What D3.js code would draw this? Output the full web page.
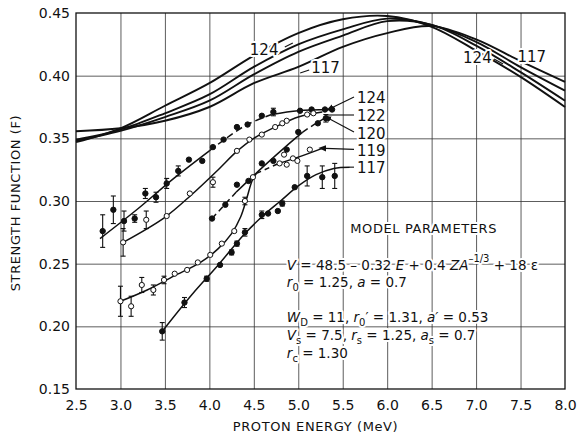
<!DOCTYPE html>
<html>
<head>
<meta charset="utf-8">
<script src="https://cdn.jsdelivr.net/npm/d3@7"></script>
<style>
  body { margin: 0; background: #fff; }
  svg text { font-family: "DejaVu Sans", "Liberation Sans", sans-serif; fill: #111; }
  .grid line { stroke: #333; stroke-width: 0.8; }
  .grid path { display: none; }
  .halo { stroke: #fff; stroke-width: 4; paint-order: stroke; stroke-linejoin: round; }
</style>
</head>
<body>
<svg id="chart" width="583" height="436"></svg>
<script>
(() => {
    // tick values
    const xTicks = [2.5, 3.0, 3.5, 4.0, 4.5, 5.0, 5.5, 6.0, 6.5, 7.0, 7.5, 8.0];
    const yTicks = [0.15, 0.20, 0.25, 0.30, 0.35, 0.40, 0.45];

    // theoretical strength-function curves (model), sampled on eGrid
    const eGrid = [2.5, 3.0, 3.5, 4.0, 4.5, 5.0, 5.5, 6.0, 6.5, 7.0, 7.5, 8.0];
    const theory124 = [0.347, 0.358, 0.376, 0.394, 0.416, 0.434, 0.445, 0.4476, 0.439, 0.420, 0.399, 0.375];
    const theory122 = [0.349, 0.357, 0.370, 0.385, 0.407, 0.425, 0.437, 0.4455, 0.4405, 0.427, 0.4068, 0.388];
    const theory120 = [0.348, 0.356, 0.367, 0.380, 0.401, 0.419, 0.432, 0.4435, 0.4405, 0.424, 0.4028, 0.380];
    const theory117 = [0.3556, 0.358, 0.364, 0.375, 0.394, 0.407, 0.423, 0.434, 0.4395, 0.429, 0.4116, 0.395];

    // measured points: energy, strength, error (0 = no bar)
    const e124 = [2.80, 2.92, 3.04, 3.16, 3.28, 3.40, 3.52, 3.65, 3.77, 3.92, 4.04, 4.16, 4.31, 4.43, 4.59, 4.72, 5.02, 5.15, 5.30, 5.38];
    const f124 = [0.276, 0.293, 0.284, 0.286, 0.306, 0.303, 0.314, 0.324, 0.333, 0.332, 0.343, 0.349, 0.359, 0.361, 0.368, 0.371, 0.372, 0.373, 0.373, 0.373];
    const d124 = [0.013, 0.011, 0.008, 0.003, 0.004, 0.004, 0.004, 0.004, 0, 0, 0, 0, 0, 0, 0, 0.003, 0, 0, 0, 0];

    const e122 = [3.03, 3.29, 3.52, 3.78, 4.04, 4.31, 4.45, 4.59, 4.74, 4.82, 4.87, 5.10, 5.17];
    const f122 = [0.267, 0.285, 0.288, 0.306, 0.315, 0.340, 0.349, 0.353, 0.359, 0.362, 0.364, 0.369, 0.370];
    const d122 = [0.011, 0.007, 0, 0, 0.004, 0, 0, 0, 0, 0, 0, 0, 0];

    const e120 = [4.03, 4.18, 4.31, 4.44, 4.59, 4.72, 4.87, 5.00, 5.22, 5.31];
    const f120 = [0.286, 0.297, 0.313, 0.316, 0.330, 0.332, 0.341, 0.355, 0.362, 0.366];
    const d120 = [0, 0, 0, 0, 0, 0, 0, 0, 0, 0.003];

    const e119 = [3.00, 3.12, 3.24, 3.37, 3.49, 3.61, 3.75, 3.87, 4.01, 4.14, 4.28, 4.40, 4.49, 4.79, 4.84, 4.87, 4.94, 4.99, 5.13];
    const f119 = [0.220, 0.216, 0.233, 0.229, 0.237, 0.242, 0.245, 0.251, 0.257, 0.266, 0.276, 0.300, 0.319, 0.330, 0.337, 0.329, 0.334, 0.332, 0.341];
    const d119 = [0.012, 0.008, 0.006, 0.004, 0.003, 0, 0, 0, 0, 0, 0, 0.003, 0, 0, 0, 0, 0, 0, 0];

    const e117 = [3.47, 3.72, 3.97, 4.12, 4.25, 4.31, 4.40, 4.59, 4.66, 4.77, 4.82, 4.96, 5.10, 5.27, 5.41];
    const f117 = [0.196, 0.219, 0.238, 0.249, 0.259, 0.266, 0.275, 0.289, 0.290, 0.292, 0.298, 0.311, 0.320, 0.319, 0.320];
    const d117 = [0.007, 0.004, 0.002, 0, 0.002, 0.002, 0.003, 0.003, 0, 0, 0.002, 0, 0.008, 0.009, 0.010];

    // hand-drawn trend lines through the data
    const lineE124 = [2.77, 3.2, 3.6, 4.0, 4.4, 4.7, 5.0, 5.35];
    const lineF124 = [0.270, 0.294, 0.318, 0.340, 0.360, 0.369, 0.372, 0.373];
    const lineE122 = [3.03, 3.5, 3.8, 4.1, 4.3, 4.5, 4.8, 5.0, 5.27];
    const lineF122 = [0.267, 0.287, 0.305, 0.325, 0.339, 0.350, 0.361, 0.367, 0.371];
    const lineE120 = [4.03, 4.3, 4.6, 4.9, 5.05, 5.2, 5.32];
    const lineF120 = [0.286, 0.307, 0.327, 0.346, 0.355, 0.362, 0.367];
    const lineE119 = [3.0, 3.3, 3.6, 3.9, 4.1, 4.25, 4.35, 4.42, 4.48, 4.53, 4.78, 5.0, 5.27];
    const lineF119 = [0.220, 0.229, 0.240, 0.251, 0.262, 0.274, 0.287, 0.302, 0.316, 0.322, 0.330, 0.335, 0.342];
    const lineE117 = [3.47, 3.8, 4.1, 4.4, 4.6, 4.8, 5.0, 5.2, 5.4, 5.58];
    const lineF117 = [0.196, 0.225, 0.249, 0.274, 0.288, 0.300, 0.312, 0.321, 0.326, 0.327];

    const svg = d3.select("#chart"),
        margin = { top: 13, right: 18, bottom: 47, left: 76 },
        width = +svg.attr("width") - margin.left - margin.right,
        height = +svg.attr("height") - margin.top - margin.bottom;

    const g = svg.append("g").attr("transform", `translate(${margin.left},${margin.top})`);

    const x = d3.scaleLinear().domain([2.5, 8.0]).range([0, width]);
    const y = d3.scaleLinear().domain([0.15, 0.45]).range([height, 0]);

    // grid
    g.append("g").attr("class", "grid")
        .attr("transform", `translate(0,${height})`)
        .call(d3.axisBottom(x).tickValues(xTicks.slice(1, -1)).tickSize(-height).tickFormat(""));
    g.append("g").attr("class", "grid")
        .call(d3.axisLeft(y).tickValues(yTicks.slice(1, -1)).tickSize(-width).tickFormat(""));

    g.append("rect").attr("width", width).attr("height", height)
        .attr("fill", "none").attr("stroke", "#111").attr("stroke-width", 1.3);

    // axes labels
    const xAxis = g.append("g").attr("transform", `translate(0,${height})`)
        .call(d3.axisBottom(x).tickValues(xTicks).tickSize(0).tickPadding(11).tickFormat(d3.format(".1f")));
    const yAxis = g.append("g")
        .call(d3.axisLeft(y).tickValues(yTicks).tickSize(0).tickPadding(6).tickFormat(d3.format(".2f")));
    [xAxis, yAxis].forEach(a => {
        a.select(".domain").remove();
        a.selectAll("text").style("font-size", "14px").attr("fill", "#111");
    });

    svg.append("text").attr("x", margin.left + x(5.25) - 5).attr("y", 431)
        .attr("text-anchor", "middle").style("font-size", "13px").style("letter-spacing", "0.6px")
        .text("PROTON ENERGY (MeV)");
    svg.append("text").attr("transform", "translate(20,203) rotate(-90)")
        .attr("text-anchor", "middle").style("font-size", "13px").style("letter-spacing", "0.6px")
        .text("STRENGTH FUNCTION (F)");

    const curve = d3.line().x(d => x(d[0])).y(d => y(d[1])).curve(d3.curveCatmullRom.alpha(0.5));

    // theory curves
    [theory124, theory122, theory120, theory117].forEach(vals => {
        g.append("path").datum(eGrid.map((e, i) => [e, vals[i]]))
            .attr("d", curve).attr("fill", "none").attr("stroke", "#111").attr("stroke-width", 1.9);
    });

    // text with white halo so grid breaks around it
    function label(px, py, txt, size, anchor) {
        return g.append("text").attr("class", "halo").attr("x", px).attr("y", py)
            .attr("text-anchor", anchor || "start").style("font-size", (size || 15) + "px").text(txt);
    }
    function leader(x1, y1, x2, y2, arrow) {
        g.append("line").attr("x1", x1).attr("y1", y1).attr("x2", x2).attr("y2", y2)
            .attr("stroke", "#111").attr("stroke-width", 1.1)
            .attr("marker-start", arrow ? "url(#arrow)" : null);
    }
    svg.append("defs").append("marker").attr("id", "arrow")
        .attr("viewBox", "0 0 10 10").attr("refX", 1).attr("refY", 5)
        .attr("markerWidth", 7).attr("markerHeight", 7).attr("orient", "auto-start-reverse")
        .append("path").attr("d", "M0,1 L10,5 L0,9 z").attr("fill", "#111");

    // theory labels
    label(x(4.5) - 4, 42, "124");
    leader(x(4.5) + 31, 34, x(4.5) + 39, 30);
    label(x(5.1) + 4, 60, "117");
    leader(x(5.1) + 2, 57, x(5.1) - 7, 60);
    label(x(7.0) - 13, 50, "124");
    leader(x(7.0) + 18, 46, x(7.0) + 27, 51);
    label(x(7.5) - 3, 49, "117");

    // data trend lines
    const seg = (E, F, lo, hi) => E.map((e, i) => [e, F[i]]).filter(d => d[0] >= lo && d[0] <= hi);
    const drawLine = (pts, dash) => g.append("path").datum(pts).attr("d", curve)
        .attr("fill", "none").attr("stroke", "#111").attr("stroke-width", 1.5)
        .attr("stroke-dasharray", dash || null);

    drawLine(seg(lineE124, lineF124, 0, 4.0));
    drawLine(seg(lineE124, lineF124, 4.0, 4.7), "7,4");
    drawLine(seg(lineE124, lineF124, 4.7, 9));
    drawLine(seg(lineE122, lineF122, 0, 9));
    drawLine(seg(lineE120, lineF120, 0, 4.3), "6,4");
    drawLine(seg(lineE120, lineF120, 4.3, 5.05));
    drawLine(seg(lineE120, lineF120, 5.05, 9), "6,4");
    drawLine(seg(lineE119, lineF119, 0, 4.53));
    drawLine(seg(lineE119, lineF119, 4.53, 4.78), "5,4");
    drawLine(seg(lineE119, lineF119, 4.78, 9));
    drawLine(seg(lineE117, lineF117, 0, 9));

    // points with error bars
    function drawPoints(E, F, D, filled) {
        const pts = E.map((e, i) => ({ e: e, f: F[i], d: D[i] }));
        const bars = g.append("g").selectAll("g").data(pts.filter(p => p.d > 0)).join("g");
        bars.append("line").attr("x1", p => x(p.e)).attr("x2", p => x(p.e))
            .attr("y1", p => y(p.f - p.d)).attr("y2", p => y(p.f + p.d))
            .attr("stroke", "#111").attr("stroke-width", 1.1);
        [-1, 1].forEach(s => bars.append("line")
            .attr("x1", p => x(p.e) - 2.5).attr("x2", p => x(p.e) + 2.5)
            .attr("y1", p => y(p.f + s * p.d)).attr("y2", p => y(p.f + s * p.d))
            .attr("stroke", "#111").attr("stroke-width", 1.1));
        g.append("g").selectAll("circle").data(pts).join("circle")
            .attr("cx", p => x(p.e)).attr("cy", p => y(p.f)).attr("r", filled ? 2.7 : 2.6)
            .attr("fill", filled ? "#111" : "#fff").attr("stroke", "#111").attr("stroke-width", 1);
    }
    drawPoints(e124, f124, d124, true);
    drawPoints(e122, f122, d122, false);
    drawPoints(e120, f120, d120, true);
    drawPoints(e119, f119, d119, false);
    drawPoints(e117, f117, d117, true);

    // series labels at the right end of each trend line
    const lx = 281;
    const last = (E, F) => [x(E[E.length - 1]), y(F[F.length - 1])];
    let p = last(lineE124, lineF124);
    leader(p[0] + 3, p[1] - 2, lx - 3, 84, true);
    label(lx, 90, "124");
    p = last(lineE122, lineF122);
    leader(p[0] + 4, 102, lx - 3, 102);
    label(lx, 108, "122");
    p = last(lineE120, lineF120);
    leader(p[0] + 3, p[1] + 2, lx - 3, 119, true);
    label(lx, 126, "120");
    p = last(lineE119, lineF119);
    leader(p[0] + 3, p[1], lx - 3, p[1] + 1, true);
    label(lx, 143, "119");
    p = last(lineE117, lineF117);
    leader(p[0], p[1], lx - 3, p[1]);
    label(lx, 160, "117");

    // model parameter block
    label(x(5.0) + 52, 220, "MODEL PARAMETERS", 13).style("letter-spacing", "0.6px");
    function rich(px, py, parts) {
        const t = g.append("text").attr("class", "halo").attr("x", px).attr("y", py).style("font-size", "13.5px");
        let shift = 0;
        parts.forEach(([s, st]) => {
            const sp = t.append("tspan").text(s);
            let target = st === "sub" ? 4 : st === "sup" ? -8 : 0;
            if (target !== shift) { sp.attr("dy", target - shift); shift = target; }
            if (st === "i") sp.style("font-style", "italic");
            if (st === "sub" || st === "sup") sp.style("font-size", "10px");
        });
        return t;
    }
    const bx = x(4.5) + 33;
    rich(bx, 257, [["V", "i"], [" = 48.5 \u2013 0.32 ", ""], ["E", "i"], [" + 0.4 ", ""], ["ZA", "i"],
        ["\u20131/3", "sup"], [" + 18 \u03b5", ""]]);
    rich(bx, 274, [["r", "i"], ["0", "sub"], [" = 1.25,  ", ""], ["a", "i"], [" = 0.7", ""]]);
    rich(bx, 309, [["W", "i"], ["D", "sub"], [" = 11,  ", ""], ["r", "i"], ["0", "sub"], ["\u2032", ""],
        [" = 1.31,  ", ""], ["a\u2032", "i"], [" = 0.53", ""]]);
    rich(bx, 327, [["V", "i"], ["s", "sub"], [" = 7.5,  ", ""], ["r", "i"], ["s", "sub"], [" = 1.25,  ", ""],
        ["a", "i"], ["s", "sub"], [" = 0.7", ""]]);
    rich(bx, 345, [["r", "i"], ["c", "sub"], [" = 1.30", ""]]);
})();
</script>
</body>
</html>
